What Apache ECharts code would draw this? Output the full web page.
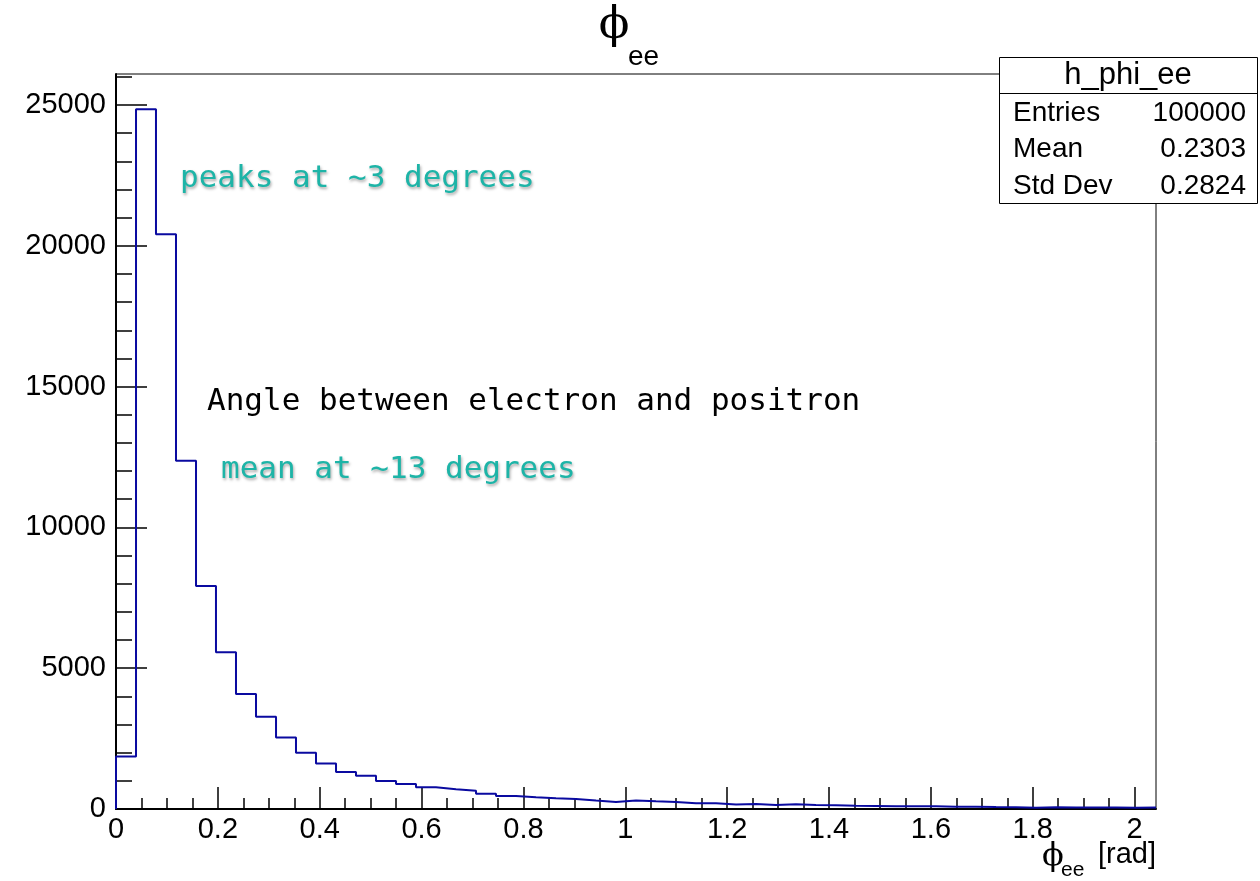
<!DOCTYPE html>
<html>
<head>
<meta charset="utf-8">
<script src="https://cdn.jsdelivr.net/npm/echarts@6/dist/echarts.min.js"></script>
<style>
html,body{margin:0;padding:0;background:#fff;}
#chart{width:1260px;height:881px;}
</style>
</head>
<body>
<div id="chart"></div>
<script>
// Histogram bin edges (rad), width pi/80, 52 visible bins
const binEdges = [0, 0.0393, 0.0785, 0.1178, 0.1571, 0.1963, 0.2356, 0.2749, 0.3142, 0.3534,
  0.3927, 0.4320, 0.4712, 0.5105, 0.5498, 0.5890, 0.6283, 0.6676, 0.7069, 0.7461,
  0.7854, 0.8247, 0.8639, 0.9032, 0.9425, 0.9817, 1.0210, 1.0603, 1.0996, 1.1388,
  1.1781, 1.2174, 1.2566, 1.2959, 1.3352, 1.3744, 1.4137, 1.4530, 1.4923, 1.5315,
  1.5708, 1.6101, 1.6493, 1.6886, 1.7279, 1.7671, 1.8064, 1.8457, 1.8850, 1.9242,
  1.9635, 2.0028, 2.0420];
// Counts per bin
const counts = [1860, 24850, 20410, 12370, 7920, 5570, 4080, 3280, 2540, 2000,
  1620, 1310, 1180, 995, 890, 770, 705, 650, 545, 465,
  415, 380, 355, 300, 250, 300, 273, 250, 202, 202,
  156, 178, 142, 165, 142, 130, 118, 107, 95, 95,
  95, 83, 83, 70, 65, 45, 65, 50, 50, 55,
  45, 50];
const xMajorTicks = [0, 0.2, 0.4, 0.6, 0.8, 1, 1.2, 1.4, 1.6, 1.8, 2];
const xMinorTicks = [0.05, 0.1, 0.15, 0.25, 0.3, 0.35, 0.45, 0.5, 0.55, 0.65, 0.7, 0.75,
  0.85, 0.9, 0.95, 1.05, 1.1, 1.15, 1.25, 1.3, 1.35, 1.45, 1.5, 1.55, 1.65, 1.7, 1.75,
  1.85, 1.9, 1.95];
const yMajorTicks = [0, 5000, 10000, 15000, 20000, 25000];
const yMinorTicks = [1000, 2000, 3000, 4000, 6000, 7000, 8000, 9000, 11000, 12000, 13000, 14000,
  16000, 17000, 18000, 19000, 21000, 22000, 23000, 24000, 26000];
const xMax = 2.0420;
const yMax = 26100;
const statsRows = [["Entries", "100000"], ["Mean", "0.2303"], ["Std Dev", "0.2824"]];
const histName = "h_phi_ee";

const stepData = [[binEdges[0], 0]];
counts.forEach((c, i) => stepData.push([binEdges[i], c]));
stepData.push([binEdges[counts.length], counts[counts.length - 1]]);

const SANS = 'Liberation Sans, Arial, Helvetica, sans-serif';
const MONO = 'DejaVu Sans Mono, monospace';
const SERIF = 'DejaVu Serif, Liberation Serif, serif';
const TEAL = '#1db4a7';
const LABEL_FS = 29;

function valueAxis(dim, ticks, len, showLabel, max, lineW) {
  return {
    type: 'value', min: 0, max: max,
    position: dim === 'x' ? 'bottom' : 'left',
    axisLine: {show: lineW > 0, onZero: false, lineStyle: {color: '#000', width: lineW}},
    axisTick: {show: true, inside: true, length: len, customValues: ticks, lineStyle: {color: '#000', width: 1.5}},
    axisLabel: showLabel ? {
      show: true, customValues: ticks, color: '#000', fontSize: LABEL_FS, fontFamily: SANS,
      margin: dim === 'x' ? 6 : 10,
      formatter: v => String(Math.round(v * 1000) / 1000)
    } : {show: false},
    splitLine: {show: false},
    minorTick: {show: false}
  };
}

const graphics = [];
// Title phi_ee
graphics.push({type: 'text', x: 614, y: 26, z: 100, style: {text: 'ϕ', fill: '#000', fontSize: 45, fontFamily: SERIF, align: 'center', verticalAlign: 'middle'}});
graphics.push({type: 'text', x: 628, y: 57, z: 100, style: {text: 'ee', fill: '#000', fontSize: 28, fontFamily: SANS, align: 'left', verticalAlign: 'middle'}});
// Stats box
graphics.push({type: 'rect', z: 100, shape: {x: 999.5, y: 57.5, width: 258, height: 146}, style: {fill: '#fff', stroke: '#000', lineWidth: 1}});
graphics.push({type: 'line', z: 101, shape: {x1: 999.5, y1: 93.5, x2: 1257.5, y2: 93.5}, style: {stroke: '#000', lineWidth: 1}});
graphics.push({type: 'text', x: 1128, y: 75, z: 102, style: {text: histName, fill: '#000', fontSize: 31, fontFamily: SANS, align: 'center', verticalAlign: 'middle'}});
statsRows.forEach((r, i) => {
  const y = 113 + i * 36.5;
  graphics.push({type: 'text', x: 1013, y: y, z: 102, style: {text: r[0], fill: '#000', fontSize: 28, fontFamily: SANS, align: 'left', verticalAlign: 'middle'}});
  graphics.push({type: 'text', x: 1246, y: y, z: 102, style: {text: r[1], fill: '#000', fontSize: 28, fontFamily: SANS, align: 'right', verticalAlign: 'middle'}});
});
// Annotations
const shadow = {textShadowColor: 'rgba(0,0,0,0.35)', textShadowBlur: 3, textShadowOffsetX: 1, textShadowOffsetY: 2};
graphics.push({type: 'text', x: 180, y: 179, z: 90, style: Object.assign({text: 'peaks at ~3 degrees', fill: TEAL, fontSize: 31, fontFamily: MONO, align: 'left', verticalAlign: 'middle'}, shadow)});
graphics.push({type: 'text', x: 207, y: 402, z: 90, style: {text: 'Angle between electron and positron', fill: '#000', fontSize: 31, fontFamily: MONO, align: 'left', verticalAlign: 'middle'}});
graphics.push({type: 'text', x: 221, y: 470, z: 90, style: Object.assign({text: 'mean at ~13 degrees', fill: TEAL, fontSize: 31, fontFamily: MONO, align: 'left', verticalAlign: 'middle'}, shadow)});
// X axis title
graphics.push({type: 'text', x: 1053, y: 857, z: 90, style: {text: 'ϕ', fill: '#000', fontSize: 32, fontFamily: SERIF, align: 'center', verticalAlign: 'middle'}});
graphics.push({type: 'text', x: 1061, y: 870, z: 90, style: {text: 'ee', fill: '#000', fontSize: 21, fontFamily: SANS, align: 'left', verticalAlign: 'middle'}});
graphics.push({type: 'text', x: 1156, y: 855, z: 90, style: {text: '[rad]', fill: '#000', fontSize: 29, fontFamily: SANS, align: 'right', verticalAlign: 'middle'}});

const option = {
  animation: false,
  backgroundColor: '#fff',
  grid: {left: 116, right: 104, top: 74, bottom: 72, show: true, borderColor: '#000', borderWidth: 1, backgroundColor: 'transparent', containLabel: false},
  xAxis: [
    valueAxis('x', xMajorTicks, 22, true, xMax, 2),
    valueAxis('x', xMinorTicks, 11, false, xMax, 0)
  ],
  yAxis: [
    valueAxis('y', yMajorTicks, 31, true, yMax, 2),
    valueAxis('y', yMinorTicks, 16, false, yMax, 0)
  ],
  series: [{
    type: 'line', xAxisIndex: 0, yAxisIndex: 0, step: 'end', symbol: 'none',
    data: stepData, lineStyle: {color: '#0a0aa0', width: 2}, clip: true, z: 5
  }],
  graphic: graphics
};
const chart = echarts.init(document.getElementById('chart'), null, {renderer: 'canvas'});
chart.setOption(option);
</script>
</body>
</html>
